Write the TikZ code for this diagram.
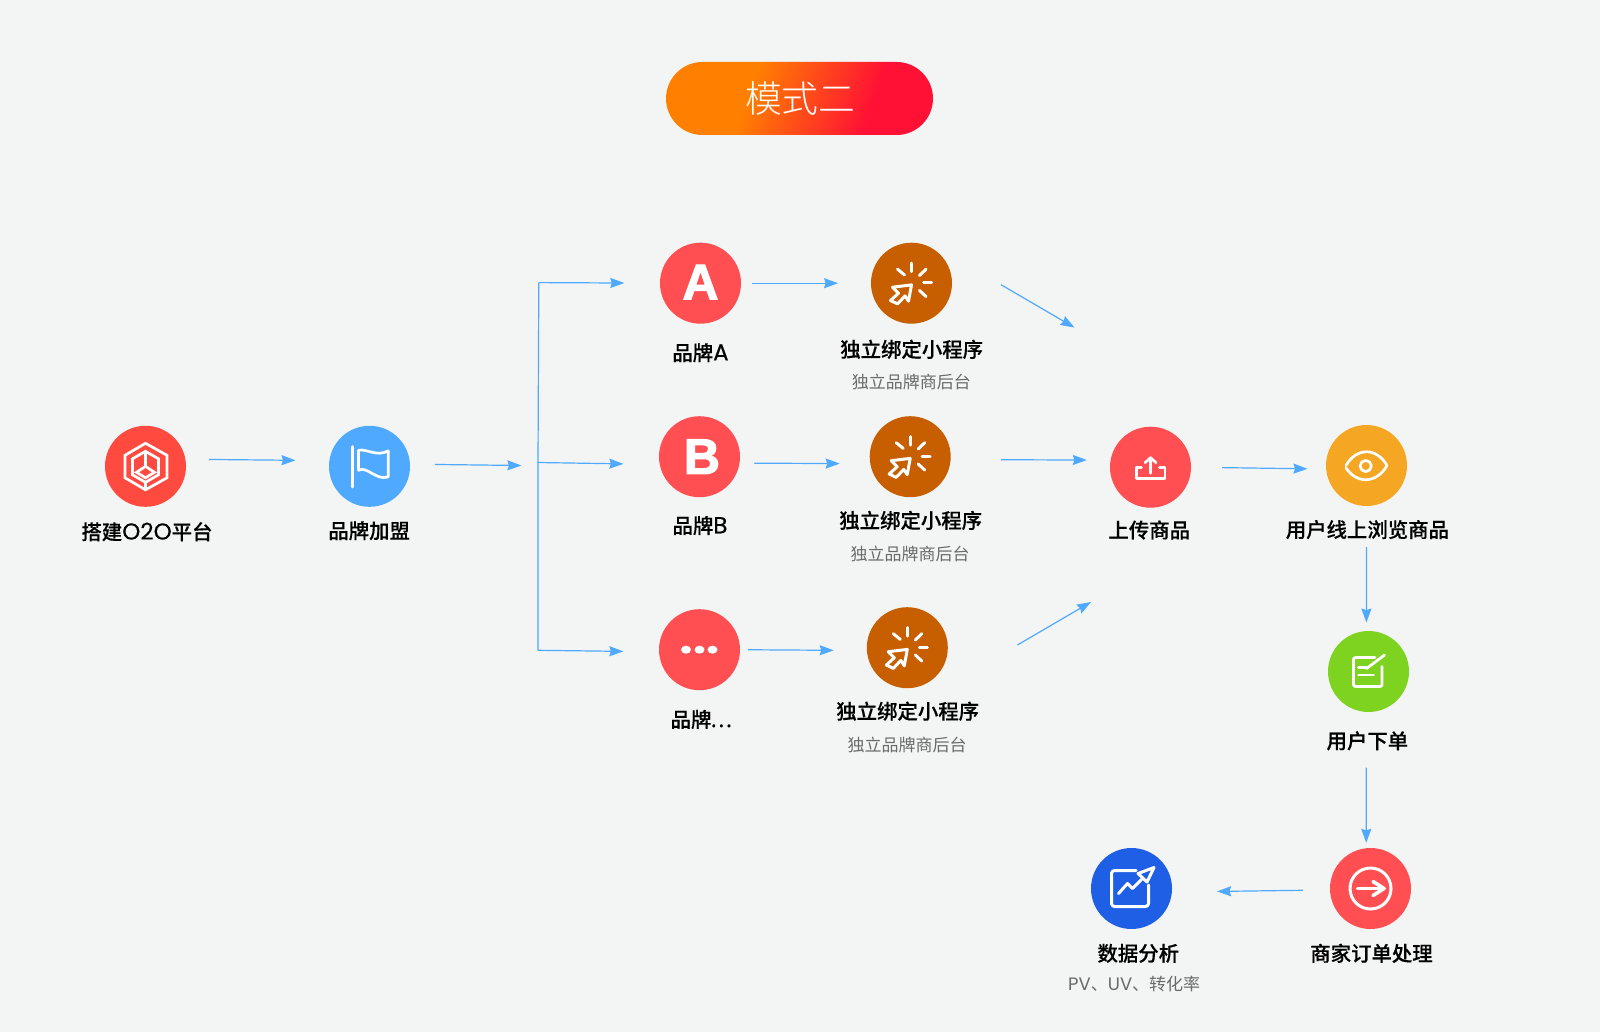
\documentclass[tikz,border=0pt]{standalone}
\usepackage{fontspec}
\setmainfont{Noto Sans CJK SC}
\newfontfamily\labelfont[FakeBold=0.3]{Noto Sans CJK SC Medium}
\newfontfamily\titlefont{Noto Sans CJK SC Light}
\newfontfamily\letterfont[BoldFeatures={FakeBold=2.2}]{Liberation Sans}
\newfontfamily\latinfont[Scale=1.13,FakeBold=0.3]{Poppins}
\newfontfamily\sublatin[Scale=1.06]{Poppins}
\usetikzlibrary{arrows.meta,calc}
\definecolor{bgcol}{HTML}{F3F5F4}
\definecolor{flowblue}{HTML}{4EA9FF}
\definecolor{hexred}{HTML}{FF4A3F}
\definecolor{brandred}{HTML}{FF4F52}
\definecolor{bindbrown}{HTML}{C75E00}
\definecolor{floworange}{HTML}{F5A623}
\definecolor{flowgreen}{HTML}{7ED321}
\definecolor{databluefill}{HTML}{1F5FE6}
\definecolor{pillorange}{HTML}{FF8000}
\definecolor{pillred}{HTML}{FF1035}
\definecolor{subgray}{HTML}{6A6A6A}
\pgfdeclarehorizontalshading{pillfade}{100bp}{color(0bp)=(pillorange); color(42.4bp)=(pillorange); color(57.6bp)=(pillred); color(100bp)=(pillred)}

\begin{document}
\begin{tikzpicture}[
  x=1pt, y=-1pt,
  stepcirc/.style={circle, minimum size=81pt, inner sep=0pt, text=white},
  labeltext/.style={inner sep=0pt, font=\labelfont\fontsize{20.4}{24}\selectfont, text=black},
  subtext/.style={inner sep=0pt, font=\fontsize{17}{20}\selectfont, text=subgray},
  letter/.style={font=\letterfont\bfseries\fontsize{50}{50}\selectfont},
  flowline/.style={draw=flowblue, line width=1.2pt},
  flowarrow/.style={flowline, -{Stealth[length=14pt,width=10pt,inset=1.5pt]}},
  iconline/.style={draw=white, line width=2.7pt, line cap=round, line join=round}
]
\useasboundingbox (0,0) rectangle (1600,1032);
\fill[bgcol] (0,0) rectangle (1600,1032);

\node[minimum width=267pt, minimum height=73pt, rounded corners=36.5pt, inner sep=0pt,
  path picture={\shade[shading=pillfade, transform canvas={rotate around={-20:(path picture bounding box.center)}}]
    ($(path picture bounding box.center)+(-189.2,-150)$) rectangle ($(path picture bounding box.center)+(210.8,150)$);},
  text=white, font=\titlefont\fontsize{36.8}{40}\selectfont] (title) at (799.5,98.5) {\hspace{1.5pt}模式二};

\node[stepcirc, fill=hexred] (o2o) at (145.5,466.3) {};
\node[stepcirc, fill=flowblue] (flag) at (369.5,466.3) {};
\node[stepcirc, fill=brandred, letter] (brandA) at (700.5,283.2) {\raisebox{2pt}{A}};
\node[stepcirc, fill=bindbrown] (bindA) at (911.5,283.2) {};
\node[stepcirc, fill=brandred, letter] (brandB) at (699.5,456.7) {\hspace{5pt}B};
\node[stepcirc, fill=bindbrown] (bindB) at (910.2,456.7) {};
\node[stepcirc, fill=brandred] (brandC) at (699.5,649.7) {};
\node[stepcirc, fill=bindbrown] (bindC) at (907.3,647.7) {};
\node[stepcirc, fill=brandred] (upload) at (1150.5,467.2) {};
\node[stepcirc, fill=floworange] (browse) at (1366.5,465.5) {};
\node[stepcirc, fill=flowgreen] (order) at (1368.5,671.5) {};
\node[stepcirc, fill=brandred] (merchant) at (1370.5,888.5) {};
\node[stepcirc, fill=databluefill] (data) at (1131.5,888.5) {};

\node[labeltext] (lblO2O) at (147,531.7) {搭建{\latinfont O2O}平台};
\node[labeltext] (lblFlag) at (369.2,530.7) {品牌加盟};
\node[labeltext] (lblBrandA) at (700.5,352.7) {品牌{\latinfont A}};
\node[labeltext] (lblBindA) at (911.7,349.3) {独立绑定小程序};
\node[subtext] (subBindA) at (911.3,382.3) {独立品牌商后台};
\node[labeltext] (lblBrandB) at (700,525.5) {品牌{\latinfont B}};
\node[labeltext] (lblBindB) at (910.7,520.4) {独立绑定小程序};
\node[subtext] (subBindB) at (910.2,554) {独立品牌商后台};
\node[labeltext] (lblBrandC) at (701,719.4) {品牌{\latinfont\addfontfeature{LetterSpace=12}...}};
\node[labeltext] (lblBindC) at (907.7,711.2) {独立绑定小程序};
\node[subtext] (subBindC) at (907,745) {独立品牌商后台};
\node[labeltext] (lblUpload) at (1149.3,530) {上传商品};
\node[labeltext] (lblBrowse) at (1367.4,529.6) {用户线上浏览商品};
\node[labeltext] (lblOrder) at (1367.4,740.8) {用户下单};
\node[labeltext] (lblData) at (1138.3,953.3) {数据分析};
\node[subtext] (subData) at (1134.2,984) {{\sublatin PV}、{\sublatin UV}、转化率};
\node[labeltext] (lblMerchant) at (1371.5,953.3) {商家订单处理};

\coordinate (trunkin) at (521.4,465.5);
\coordinate (trunkA) at (538.8,282.6);
\coordinate (trunkB) at (538,462.5);
\coordinate (trunkC) at (538,650.3);
\coordinate (diagAout) at (1001,284.7);
\coordinate (diagAin) at (1074.5,327.6);
\coordinate (diagCout) at (1017.4,645);
\coordinate (diagCin) at (1091,602);

\draw[flowarrow, shorten <=23.6pt, shorten >=33.7pt] (o2o.10) -- (flag.172.5);
\draw[flowarrow, shorten <=24.7pt] (flag.3) -- (trunkin);
\draw[flowline] (trunkA) -- (trunkB) -- (trunkC);
\draw[flowarrow, shorten >=35.5pt] (trunkA) -- (brandA.west);
\draw[flowarrow, shorten >=36.2pt] (trunkB) -- (brandB.191);
\draw[flowarrow, shorten >=35.5pt] (trunkC) -- (brandC.183);
\draw[flowarrow, shorten <=11pt, shorten >=32.7pt] (brandA.east) -- (bindA.west);
\draw[flowarrow, shorten <=14.5pt, shorten >=30.4pt] (brandB.-9) -- (bindB.190.4);
\draw[flowarrow, shorten <=8pt, shorten >=33pt] (brandC.east) -- (bindC.184);
\draw[flowarrow] (diagAout) -- (diagAin);
\draw[flowarrow, shorten <=50.4pt, shorten >=23.6pt] (bindB.-4) -- (upload.170);
\draw[flowarrow] (diagCout) -- (diagCin);
\draw[flowarrow, shorten <=31pt, shorten >=18.5pt] (upload.east) -- (browse.185);
\draw[flowarrow, shorten <=41pt, shorten >=8.3pt] (browse.south) -- (order.93);
\draw[flowarrow, shorten <=55.4pt, shorten >=5.2pt] (order.267) -- (merchant.96);
\draw[flowarrow, shorten <=27pt, shorten >=45pt] (merchant.182.5) -- (data.-5);

\begin{scope}[shift={(o2o.center)}, iconline, line cap=butt, line join=miter]
  \draw (0,-23) -- (21.5,-11) -- (21.5,11.5) -- (0,23.5) -- (-20.5,11.5) -- (-20.5,-11) -- cycle;
  \draw (-13,-7.5) -- (0,-15) -- (13,-7.5) -- (13,8.5) -- (0,16) -- (-13,8.5) -- cycle;
  \draw (0,16) -- (0,23.5);
  \draw (0,-15) -- (0,0);
  \draw (0,0) -- (9,6) -- (0,11.5) -- (-9,6) -- cycle;
\end{scope}

\begin{scope}[shift={(flag.center)}, iconline]
  \draw[line width=3.4pt] (-17,-19.5) -- (-17,20.5);
  \draw (-11,-16) .. controls (-3,-18) and (7,-9) .. (18.8,-15.5) -- (18.8,10.5)
    .. controls (7,15) and (-3,-1) .. (-11,4) -- cycle;
\end{scope}

\foreach \bindname in {bindA,bindB,bindC} {
  \begin{scope}[shift={(\bindname.center)}, iconline, line width=3pt]
    \draw (0,-20) -- (0,-11.5);
    \draw (-14,-14) -- (-7,-8.3);
    \draw (14.5,-14) -- (8,-7.7);
    \draw (12,-0.7) -- (20,-0.7);
    \draw (8,7.3) -- (14.5,13.3);
    \draw (0,1.7) -- (-19,4) -- (-13,10) -- (-21,17.3) -- (-14,20.7) -- (-6.5,12.7) -- (-3,18) -- cycle;
  \end{scope}
}

\fill[white] ($(brandC.center)+(-13.5,0)$) ellipse (5 and 4);
\fill[white] (brandC.center) ellipse (5 and 4);
\fill[white] ($(brandC.center)+(13,0)$) ellipse (5 and 4);

\begin{scope}[shift={(upload.center)}, iconline]
  \draw (-9,0) -- (-14,0) -- (-14,11) -- (14.5,11) -- (14.5,0) -- (9,0);
  \draw (0,6) -- (0,-9.5);
  \draw (-5.5,-4.5) -- (0,-9.5) -- (5.5,-4.5);
\end{scope}

\begin{scope}[shift={(browse.center)}, iconline]
  \draw (-20.5,0) .. controls (-10,-18.3) and (10,-18.3) .. (20.5,0)
    .. controls (10,18.5) and (-10,18.5) .. (-20.5,2.5);
  \draw (-0.8,0.5) circle (5.6);
\end{scope}

\begin{scope}[shift={(order.center)}, iconline, rounded corners=2pt]
  \draw (6.5,-14) -- (-15,-14) -- (-15,15) -- (13.5,15) -- (13.5,-5);
  \draw (16,-16.5) -- (-2,-3);
  \draw (-10,-4) -- (-2.5,-4);
  \draw (-10,3.5) -- (5,3.5);
\end{scope}

\begin{scope}[shift={(data.center)}, iconline, line width=3pt]
  \draw[rounded corners=3pt] (4.5,-18) -- (-20,-18) -- (-20,18) -- (17,18) -- (17,-3.5);
  \draw (-13,5) -- (-4,-5) -- (1,0) -- (10,-9);
  \draw (22.5,-21) -- (6.5,-15) -- (15.5,-6.5) -- cycle;
\end{scope}

\begin{scope}[shift={(merchant.center)}, iconline, line width=3pt]
  \draw (0,0) circle (20.5);
  \draw[line width=3.6pt] (-13,0) -- (13.5,0);
  \draw[line width=3.6pt] (2.5,-7) -- (13.5,0) -- (2.5,7);
\end{scope}
\end{tikzpicture}
\end{document}
